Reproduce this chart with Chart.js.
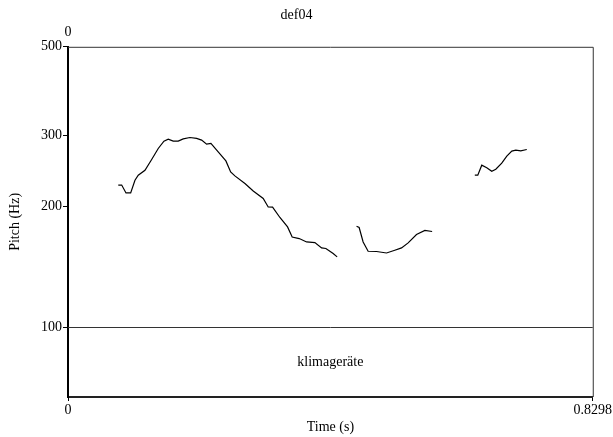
<!DOCTYPE html>
<html>
<head>
<meta charset="utf-8">
<script src="https://cdn.jsdelivr.net/npm/chart.js@4/dist/chart.umd.min.js"></script>
<style>
    html, body { margin: 0; padding: 0; background: #fff; }
</style>
</head>
<body>
<canvas id="pitchChart" width="613" height="437"></canvas>
<script>
// Pitch contour of "def04", three voiced stretches (time in s, pitch in Hz)
const times1 = [0.0795, 0.0849, 0.0917, 0.0991, 0.1059, 0.1111, 0.1217, 0.1323, 0.1427, 0.1517,
    0.1585, 0.1664, 0.1743, 0.1822, 0.1928, 0.2034, 0.2113, 0.2192, 0.2260, 0.2375,
    0.2497, 0.2572, 0.2639, 0.2798, 0.2929, 0.3087, 0.3166, 0.3235, 0.3351, 0.3472,
    0.3545, 0.3656, 0.3773, 0.3904, 0.4010, 0.4078, 0.4193, 0.4256];
const pitch1 = [225.8, 226, 216, 216, 232.4, 239.2, 246.1, 261.7, 278.8, 290.8,
    294.2, 290.8, 290.8, 294.7, 297, 295.4, 292.5, 285.8, 287, 273.5,
    259.6, 243.7, 238.2, 228, 218.5, 209.2, 199.3, 199, 187.6, 177.7,
    167.7, 166.2, 163, 162.4, 157.5, 157, 152.5, 149.6];

const times2 = [0.4563, 0.4604, 0.4667, 0.4746, 0.4879, 0.5037, 0.5168, 0.5274, 0.5379, 0.5511, 0.5643, 0.5758];
const pitch2 = [178.4, 177.1, 163, 154.5, 154.3, 153, 155.4, 157.5, 162.1, 170.1, 174.1, 173.1];

const times3 = [0.6433, 0.6480, 0.6543, 0.6622, 0.6701, 0.6765, 0.6859, 0.6939, 0.7018, 0.7081, 0.7160, 0.7255];
const pitch3 = [239.2, 239.2, 253.3, 249.7, 244.7, 247.6, 256.3, 266.8, 274.6, 276.1, 275, 277.2];

const yTicks = [100, 200, 300, 500];
const xTicks = [0, 0.8298];
const tierLabel = 'klimageräte';
const chartTitle = 'def04';

const serif = '"Liberation Serif", "Times New Roman", serif';

function toPoints(ts, ps) {
    return ts.map((t, i) => ({ x: t, y: ps[i] }));
}

// Vẽ khung trên/phải, đường 100 Hz và nhãn của tầng văn bản
const tierPlugin = {
    id: 'tier',
    afterDraw(chart) {
        const { ctx, chartArea: a, scales } = chart;
        const y100 = Math.round(scales.y.getPixelForValue(100)) + 0.5;
        ctx.save();
        ctx.strokeStyle = '#333';
        ctx.lineWidth = 1;
        ctx.beginPath();
        ctx.moveTo(a.left, a.top + 0.5);
        ctx.lineTo(a.right + 0.5, a.top + 0.5);
        ctx.lineTo(a.right + 0.5, a.bottom);
        ctx.moveTo(a.left, y100);
        ctx.lineTo(a.right, y100);
        ctx.stroke();

        ctx.fillStyle = '#000';
        ctx.font = '14px ' + serif;
        ctx.textAlign = 'center';
        ctx.textBaseline = 'middle';
        ctx.fillText(tierLabel, (a.left + a.right) / 2, (y100 + a.bottom) / 2);
        ctx.fillText('0', scales.x.getPixelForValue(0), a.top - 14);
        ctx.restore();
    }
};

const ctx = document.getElementById('pitchChart').getContext('2d');
const lineStyle = { borderColor: '#000', borderWidth: 1.2, pointRadius: 0, tension: 0, fill: false };

new Chart(ctx, {
    type: 'line',
    data: {
        datasets: [
            { data: toPoints(times1, pitch1), ...lineStyle },
            { data: toPoints(times2, pitch2), ...lineStyle },
            { data: toPoints(times3, pitch3), ...lineStyle }
        ]
    },
    options: {
        responsive: false,
        animation: false,
        layout: { padding: { left: 0, right: 20, top: 0, bottom: 0 } },
        plugins: {
            legend: { display: false },
            tooltip: { enabled: false },
            title: {
                display: true,
                text: chartTitle,
                color: '#000',
                font: { family: serif, size: 14, weight: 'normal' },
                padding: { top: 7, bottom: 23 }
            }
        },
        scales: {
            x: {
                type: 'linear',
                min: 0,
                max: 0.8298,
                afterBuildTicks: scale => { scale.ticks = xTicks.map(v => ({ value: v })); },
                afterFit: scale => { scale.height = 40; },
                ticks: {
                    color: '#000',
                    padding: 1,
                    maxRotation: 0,
                    font: { family: serif, size: 14 },
                    callback: v => String(v)
                },
                grid: { drawOnChartArea: false, tickLength: 4, tickColor: '#000' },
                border: { color: '#222', width: 2 },
                title: {
                    display: true,
                    text: 'Time (s)',
                    color: '#000',
                    font: { family: serif, size: 14 },
                    padding: { top: 0, bottom: 1 }
                }
            },
            y: {
                type: 'logarithmic',
                min: 66.9,
                max: 500,
                afterBuildTicks: scale => { scale.ticks = yTicks.map(v => ({ value: v })); },
                afterFit: scale => { scale.width = 68; },
                ticks: {
                    color: '#000',
                    padding: 1,
                    font: { family: serif, size: 14 },
                    callback: v => String(v)
                },
                grid: { drawOnChartArea: false, tickLength: 5, tickColor: '#000' },
                border: { color: '#000', width: 2 },
                title: {
                    display: true,
                    text: 'Pitch (Hz)',
                    color: '#000',
                    font: { family: serif, size: 14 },
                    padding: { top: 7, bottom: 0 }
                }
            }
        }
    },
    plugins: [tierPlugin]
});
</script>
</body>
</html>
